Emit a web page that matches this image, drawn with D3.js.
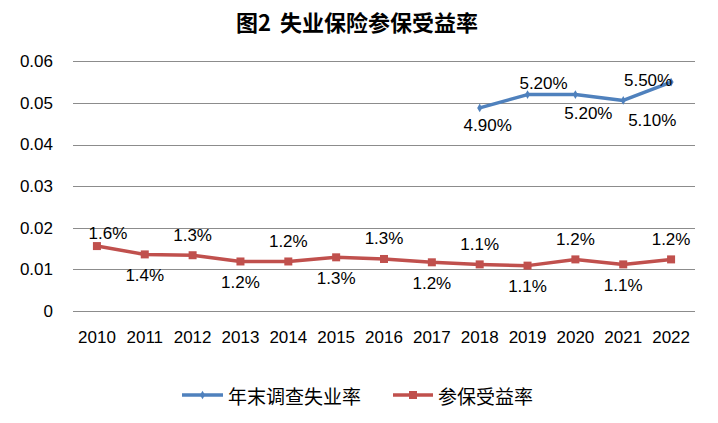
<!DOCTYPE html>
<html><head><meta charset="utf-8">
<script src="https://cdn.jsdelivr.net/npm/d3@7"></script>
<style>
html,body{margin:0;padding:0;background:#fff;}
svg{display:block;}
text{font-family:"Liberation Sans",Arial,sans-serif;fill:#000;}
</style></head>
<body><svg id="c" width="718" height="423"></svg>
<script>
// ---- data ----
const years = ["2010","2011","2012","2013","2014","2015","2016","2017","2018","2019","2020","2021","2022"];
const unempRate = [null,null,null,null,null,null,null,null,0.0488,0.052,0.052,0.0506,0.055];
const unempLabels = [null,null,null,null,null,null,null,null,"4.90%","5.20%","5.20%","5.10%","5.50%"];
const benefitRate = [0.0156,0.0136,0.0134,0.0119,0.0119,0.0129,0.0125,0.0117,0.0112,0.0109,0.0124,0.0112,0.0124];
const benefitLabels = ["1.6%","1.4%","1.3%","1.2%","1.2%","1.3%","1.3%","1.2%","1.1%","1.1%","1.2%","1.1%","1.2%"];
const yTicks = [0,0.01,0.02,0.03,0.04,0.05,0.06];
const yTickLabels = ["0","0.01","0.02","0.03","0.04","0.05","0.06"];
const seriesNames = ["年末调查失业率","参保受益率"];
const title = "图2 失业保险参保受益率";

// ---- layout (not data) ----
const blueC = "#4F81BD", redC = "#C0504D";
const L = 73, R = 695, T = 61.3, B = 311;
const svg = d3.select("#c");
const x = d3.scaleBand().domain(years).range([L, R]);
const y = d3.scaleLinear().domain([0, 0.06]).range([B, T]);
const cx = d => x(d) + x.bandwidth()/2;

// title
svg.append("text").attr("x", 357).attr("y", 21).attr("text-anchor","middle")
  .attr("dominant-baseline","central")
  .style("font-family","'Noto Sans CJK SC',sans-serif").style("font-weight","bold").style("font-size","22px")
  .style("word-spacing","4px")
  .text(title);

// grid
svg.append("g").selectAll("line").data(yTicks).join("line")
  .attr("x1", L).attr("x2", R).attr("y1", d => Math.round(y(d))+0.5).attr("y2", d => Math.round(y(d))+0.5)
  .attr("stroke", "#8c8c8c").attr("stroke-width", 1);

// y axis labels
const yAxis = d3.axisLeft(y).tickValues(yTicks).tickSize(0).tickPadding(20)
  .tickFormat((d,i) => yTickLabels[i]);
const ya = svg.append("g").attr("transform", `translate(${L},0)`).call(yAxis);
ya.select(".domain").remove();
ya.selectAll("text").style("font-size","17px").style("font-family","'Liberation Sans',Arial,sans-serif").attr("fill","#000");

// x axis labels
const xAxis = d3.axisBottom(x).tickSize(0).tickPadding(20);
const xa = svg.append("g").attr("transform", `translate(0,${B})`).call(xAxis);
xa.select(".domain").remove();
xa.selectAll("text").style("font-size","17px").style("font-family","'Liberation Sans',Arial,sans-serif").attr("fill","#000");

// lines
const line = d3.line().defined(d => d[1] != null).x(d => cx(d[0])).y(d => y(d[1]));
const redData = years.map((yr,i) => [yr, benefitRate[i]]);
const blueData = years.map((yr,i) => [yr, unempRate[i]]);
svg.append("path").datum(redData).attr("d", line).attr("fill","none")
  .attr("stroke", redC).attr("stroke-width", 3.5).attr("stroke-linejoin","round");
svg.append("g").selectAll("rect").data(redData).join("rect")
  .attr("x", d => cx(d[0]) - 4).attr("y", d => y(d[1]) - 4).attr("width", 8).attr("height", 8)
  .attr("fill", redC);
svg.append("path").datum(blueData).attr("d", line).attr("fill","none")
  .attr("stroke", blueC).attr("stroke-width", 3.5).attr("stroke-linejoin","round");
const diamond = d3.symbol().type(d3.symbolDiamond).size(22);
svg.append("g").selectAll("path").data(blueData.filter(d => d[1] != null)).join("path")
  .attr("d", diamond).attr("transform", d => `translate(${cx(d[0])},${y(d[1])})`).attr("fill", blueC);

// data labels
const redOff = benefitLabels.map((_, i) => i === 0 ? [11, -13] : (i % 2 === 0 ? [0, -20] : [0, 21]));
svg.append("g").selectAll("text").data(redData).join("text")
  .attr("x", (d,i) => cx(d[0]) + redOff[i][0]).attr("y", (d,i) => y(d[1]) + redOff[i][1])
  .attr("text-anchor","middle").attr("dominant-baseline","central").style("font-size","17px")
  .text((d,i) => benefitLabels[i]);
const blueOff = {8:[8,18], 9:[16,-11], 10:[13,19], 11:[29,20], 12:[-23,-2]};
svg.append("g").selectAll("text").data(blueData.map((d,i)=>[...d,i]).filter(d => d[1] != null)).join("text")
  .attr("x", d => cx(d[0]) + blueOff[d[2]][0]).attr("y", d => y(d[1]) + blueOff[d[2]][1])
  .attr("text-anchor","middle").attr("dominant-baseline","central").style("font-size","17px")
  .text(d => unempLabels[d[2]]);

// legend
const lg = svg.append("g");
const legY = 395;
lg.append("line").attr("x1",182).attr("x2",223).attr("y1",legY).attr("y2",legY).attr("stroke",blueC).attr("stroke-width",3.5);
lg.append("path").attr("d", diamond).attr("transform",`translate(202.5,${legY})`).attr("fill",blueC);
lg.append("text").attr("x",228).attr("y",legY).attr("dominant-baseline","central")
  .style("font-family","'Noto Sans CJK SC',sans-serif").style("font-size","19px").text(seriesNames[0]);
lg.append("line").attr("x1",393).attr("x2",433).attr("y1",legY).attr("y2",legY).attr("stroke",redC).attr("stroke-width",3.5);
lg.append("rect").attr("x",409).attr("y",legY-4).attr("width",8).attr("height",8).attr("fill",redC);
lg.append("text").attr("x",438).attr("y",legY).attr("dominant-baseline","central")
  .style("font-family","'Noto Sans CJK SC',sans-serif").style("font-size","19px").text(seriesNames[1]);
</script></body></html>
